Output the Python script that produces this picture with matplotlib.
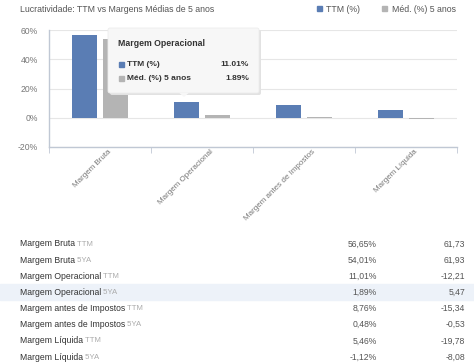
import numpy as np
import matplotlib.pyplot as plt
from matplotlib.patches import FancyBboxPatch, Rectangle, Polygon
from matplotlib.transforms import ScaledTranslation

plt.rcParams['font.family'] = ['Liberation Sans', 'DejaVu Sans']

# data
categories = ["Margem Bruta", "Margem Operacional", "Margem antes de Impostos", "Margem Líquida"]
ttm = [56.65, 11.01, 8.76, 5.46]
avg5 = [54.01, 1.89, 0.48, -1.12]
industry = [61.73, 61.93, -12.21, 5.47, -15.34, -0.53, -19.78, -8.08]
yticks = [-20, 0, 20, 40, 60]

blue = "#5a7db4"
gray = "#b4b4b4"
W, H = 474, 364

fig = plt.figure(figsize=(W / 100, H / 100), dpi=100)

# chart axes, placed in pixel terms
ax = fig.add_axes([49 / W, 1 - 147 / H, 408 / W, 117 / H])
x = np.arange(len(categories))
ax.bar(x - 0.15, ttm, width=0.24, color=blue, zorder=3)
ax.bar(x + 0.15, avg5, width=0.24, color=gray, zorder=3)
ax.set_xlim(-0.5, len(categories) - 0.5)
ax.set_ylim(-20, 60)
ax.set_yticks(yticks)
ax.set_yticklabels([f"{v}%" for v in yticks], fontsize=6.2, color="#777777")
ax.yaxis.grid(True, color="#e6e6e6", linewidth=0.8, zorder=0)
ax.tick_params(axis="y", length=0, pad=8)
for s in ["top", "right"]:
    ax.spines[s].set_visible(False)
ax.spines["left"].set_color("#c0c8d4")
ax.spines["bottom"].set_color("#c0c8d4")
ax.spines["left"].set_linewidth(1)
ax.spines["bottom"].set_linewidth(1)

# category boundary ticks
ax.set_xticks(np.arange(len(categories) + 1) - 0.5, minor=True)
ax.tick_params(axis="x", which="minor", length=4, color="#c0c8d4")
ax.set_xticks(x)
ax.set_xticklabels(categories, rotation=45, ha="right", rotation_mode="anchor",
                   fontsize=5.8, color="#777777")
ax.tick_params(axis="x", which="major", length=0, pad=1)
off = ScaledTranslation(8 / 100, 0, fig.dpi_scale_trans)
for lbl in ax.get_xticklabels():
    lbl.set_transform(lbl.get_transform() + off)

# overlay axes in pixel coords for title, legend, tooltip and table
ov = fig.add_axes([0, 0, 1, 1], facecolor="none")
ov.set_xlim(0, W)
ov.set_ylim(H, 0)
ov.axis("off")

ov.text(20, 9, "Lucratividade: TTM vs Margens Médias de 5 anos", fontsize=6.3,
        color="#555555", va="center")
ov.add_patch(Rectangle((317, 6), 5, 5, color=blue))
ov.text(326, 9, "TTM (%)", fontsize=6.3, color="#555555", va="center")
ov.add_patch(Rectangle((382, 6), 5, 5, color=gray))
ov.text(392, 9, "Méd. (%) 5 anos", fontsize=6.3, color="#555555", va="center")

# tooltip
ov.add_patch(FancyBboxPatch((110, 30), 151, 65, boxstyle="round,pad=0,rounding_size=2",
                            facecolor="#e2e2e2", edgecolor="none", zorder=4))
ov.add_patch(FancyBboxPatch((108, 28), 151, 65, boxstyle="round,pad=0,rounding_size=2",
                            facecolor="#f7f7f7", edgecolor="#ececec", linewidth=0.6, zorder=5))
ov.add_patch(Polygon([(179, 92.6), (189, 92.6), (184, 97)], closed=True,
                     facecolor="#f7f7f7", edgecolor="none", zorder=6))
ov.text(118, 43, categories[1], fontsize=6.3, fontweight="bold", color="#333333",
        va="center", zorder=7)
ov.add_patch(Rectangle((119, 61.5), 5, 5, color=blue, zorder=7))
ov.text(127, 64, "TTM (%)", fontsize=6, fontweight="bold", color="#333333",
        va="center", zorder=7)
ov.text(249, 64, f"{ttm[1]:.2f}%", fontsize=6, fontweight="bold", color="#333333",
        va="center", ha="right", zorder=7)
ov.add_patch(Rectangle((119, 75.5), 5, 5, color=gray, zorder=7))
ov.text(127, 78, "Méd. (%) 5 anos", fontsize=6, fontweight="bold", color="#333333",
        va="center", zorder=7)
ov.text(249, 78, f"{avg5[1]:.2f}%", fontsize=6, fontweight="bold", color="#333333",
        va="center", ha="right", zorder=7)

# table below the chart
rows = []
for i, c in enumerate(categories):
    rows.append((c, "TTM", ttm[i]))
    rows.append((c, "5YA", avg5[i]))

ov.add_patch(Rectangle((0, 284), W, 16, color="#edf2f9", zorder=0))
for i, (name, suffix, v) in enumerate(rows):
    y = 244 + i * 16.15
    t = ov.text(20, y, name, fontsize=6.2, color="#333333", va="center")
    ov.annotate(" " + suffix, xy=(1, 0.5), xycoords=t, va="center", ha="left",
                fontsize=5.6, color="#aaaaaa")
    ov.text(377, y, f"{v:.2f}%".replace(".", ","), fontsize=6.2, color="#555555",
            va="center", ha="right")
    ov.text(465, y, f"{industry[i]:.2f}".replace(".", ","), fontsize=6.2,
            color="#555555", va="center", ha="right")

fig.savefig("out.png", dpi=100, facecolor="white")
